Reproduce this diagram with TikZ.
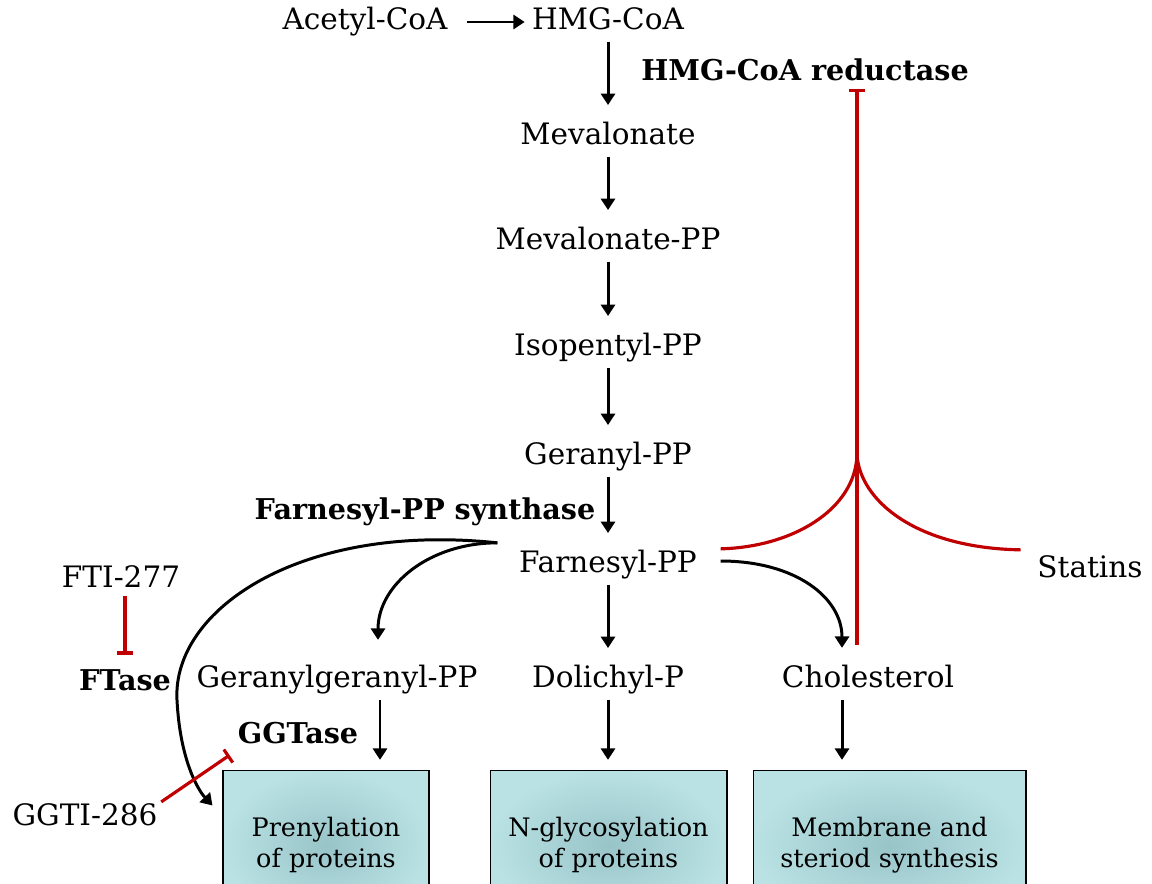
\documentclass[tikz,border=0pt]{standalone}
\usepackage{fontspec}
\setmainfont{DejaVu Serif}
\usepackage{xcolor}
\usepackage{tikz}
\usetikzlibrary{arrows.meta,calc}

\definecolor{inhibred}{RGB}{192,0,0}
\definecolor{boxedge}{RGB}{186,226,228}
\definecolor{boxcore}{RGB}{152,196,200}

\tikzset{
  metab/.style={font=\fontsize{16.8}{19}\selectfont, inner sep=2pt, text height=11pt, text depth=3pt},
  enzyme/.style={metab, font=\fontsize{16.3}{19}\selectfont\bfseries},
  flow/.style={line width=1.7pt, -{Triangle[length=6.5pt,width=8pt]}, shorten <=2pt, shorten >=9pt},
  inhib/.style={line width=1.8pt, inhibred, -{Bar[width=9pt,line width=1.8pt]}},
  outcome/.style={draw, line width=0.6pt, shading=radial, inner color=boxcore, outer color=boxedge,
    minimum height=3cm, align=center, font=\fontsize{14.5}{17.6}\selectfont}
}

\begin{document}
\begin{tikzpicture}[x=0.02cm,y=-0.02cm]
\path[use as bounding box, clip] (0,0) rectangle (1152,883);
\node[metab] (acetyl) at (365,22) {Acetyl-CoA};
\node[metab] (hmg) at (608,22) {HMG-CoA};
\node[enzyme] (reductase) at (805,73) {HMG-CoA reductase};
\node[metab] (meva) at (608,137) {Mevalonate};
\node[metab] (mevapp) at (608,242) {Mevalonate-PP};
\node[metab] (ipp) at (608,348) {Isopentyl-PP};
\node[metab] (gpp) at (608,457) {Geranyl-PP};
\node[enzyme] (fpps) at (425,512) {Farnesyl-PP synthase};
\node[metab] (fpp) at (608,565) {Farnesyl-PP};
\node[metab] (statins) at (1090,570) {Statins};
\node[metab] (fti) at (121,580) {FTI-277};
\node[enzyme] (ftase) at (125,683) {FTase};
\node[metab] (ggpp) at (337,680) {Geranylgeranyl-PP};
\node[metab] (dol) at (608,680) {Dolichyl-P};
\node[metab] (chol) at (868,680) {Cholesterol};
\node[enzyme] (ggtase) at (298,736) {GGTase};
\node[metab] (ggti) at (85,818) {GGTI-286};
\node[outcome, minimum width=4.12cm] (prenyl) at (326,845) {Prenylation\\of proteins};
\node[outcome, minimum width=4.74cm] (nglyc) at (608.5,845) {N-glycosylation\\of proteins};
\node[outcome, minimum width=5.46cm] (membrane) at (889.5,845) {Membrane and\\steriod synthesis};

\coordinate (fork) at ($(fpp.north west)+(-18,-6)$);
\coordinate (cholfork) at ($(fpp.east)+(20,-4)$);
\coordinate (ggdrop) at ($(ggpp.south)+(43,0)$);
\coordinate (choldrop) at ($(chol.south)+(-26,0)$);
\coordinate (cusp) at (857,455);
\coordinate (cbase) at (857,645);
\coordinate (redleft) at ($(fpp.north east)+(20,0)$);
\coordinate (redright) at ($(statins.north west)+(-13,-4)$);

\draw[flow, shorten <=9pt, shorten >=2pt] (acetyl) -- (hmg);
\draw[flow] (hmg) -- (meva);
\draw[flow] (meva) -- (mevapp);
\draw[flow] (mevapp) -- (ipp);
\draw[flow] (ipp) -- (gpp);
\draw[flow] (gpp) -- (fpp);
\draw[flow] (fpp) -- (dol);
\draw[flow, shorten >=5.5pt] (ggdrop) -- (ggdrop |- prenyl.north);
\draw[flow, shorten >=5.5pt] (dol) -- (dol |- nglyc.north);
\draw[flow, shorten >=5.5pt] (choldrop) -- (choldrop |- membrane.north);
\draw[flow, shorten <=0pt, shorten >=0pt] (fork) .. controls +(-68,0) and +(0,-55) .. ($(ggpp.north)+(41,-24)$);
\draw[flow, shorten <=0pt, shorten >=0pt] (fork) .. controls (300,522) and (172,610) .. (177,700)
  .. controls (180,760) and (198,790) .. ($(prenyl.north west)+(-10,36)$);
\draw[flow, shorten <=0pt, shorten >=0pt] (cholfork) .. controls +(75,0) and +(0,-50) .. ($(chol.north)+(-26,-16)$);

\draw[inhibred, line width=1.8pt] (redleft) .. controls (792,547) and (855,510) .. (cusp)
  .. controls (860,500) and (915,548) .. (redright);
\draw[inhib] (cbase) -- (cusp |- reductase.south);
\draw[inhib, shorten >=7pt] (ftase.north |- fti.south) -- (ftase.north);
\draw[inhib, shorten >=3pt] (ggti.north east) -- (ggtase.south west);
\end{tikzpicture}
\end{document}
